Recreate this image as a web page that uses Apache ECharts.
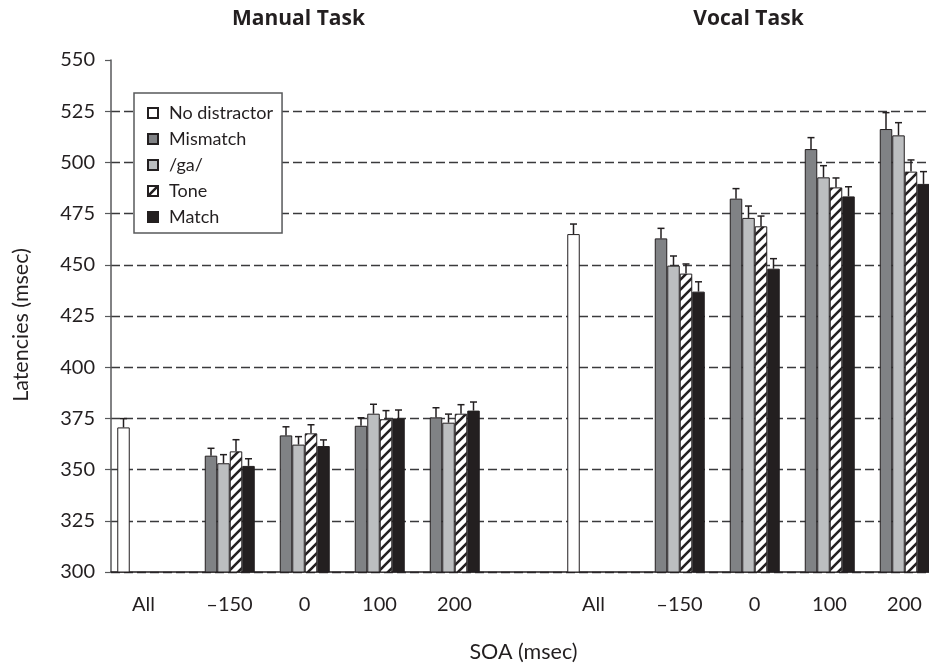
<!DOCTYPE html>
<html>
<head>
<meta charset="utf-8">
<script src="https://cdn.jsdelivr.net/npm/echarts@6/dist/echarts.min.js"></script>
<style>
  html, body { margin: 0; padding: 0; background: #fff; }
  #chart { width: 929px; height: 663px; }
</style>
</head>
<body>
<div id="chart"></div>
<script>
// SOA levels shown under each task panel
const soaLabels = ['All', '\u2013150', '0', '100', '200'];
const taskTitles = ['Manual Task', 'Vocal Task'];
const seriesNames = ['No distractor', 'Mismatch', '/ga/', 'Tone', 'Match'];

// Mean latencies (msec); distractor conditions are at SOA -150, 0, 100, 200
const manualNoDistractor = 370.6;
const manualMismatch = [356.8, 366.7, 371.4, 375.5];
const manualGa = [353.1, 362.2, 377.3, 372.9];
const manualTone = [358.9, 367.7, 374.6, 377.3];
const manualMatch = [351.8, 361.5, 375.0, 378.8];

const vocalNoDistractor = 465.0;
const vocalMismatch = [462.9, 482.3, 506.5, 516.3];
const vocalGa = [449.6, 472.9, 492.7, 513.2];
const vocalTone = [445.7, 468.8, 487.8, 495.5];
const vocalMatch = [436.9, 448.1, 483.4, 489.5];

// Standard errors (upper whisker length, msec)
const manualNoDistractorErr = 4.3;
const manualMismatchErr = [3.6, 4.2, 3.9, 4.7];
const manualGaErr = [4.2, 3.9, 4.6, 4.2];
const manualToneErr = [5.7, 4.2, 4.2, 4.4];
const manualMatchErr = [3.5, 3.0, 4.1, 4.2];

const vocalNoDistractorErr = 4.9;
const vocalMismatchErr = [4.9, 4.9, 5.6, 8.0];
const vocalGaErr = [4.7, 5.8, 5.7, 6.2];
const vocalToneErr = [4.7, 5.0, 4.6, 5.7];
const vocalMatchErr = [4.8, 4.9, 4.7, 6.0];

// Category slots: 5 per task plus one blank spacer between the panels
const categories = [];
taskTitles.forEach(function (t, ti) {
  soaLabels.forEach(function (s) { categories.push(t + '|' + s); });
  if (ti === 0) categories.push('spacer');
});
const MANUAL_START = 0;
const VOCAL_START = soaLabels.length + 1;

function buildSeriesValues(manualAll, vocalAll, manualSoa, vocalSoa) {
  const out = categories.map(function () { return '-'; });
  if (manualAll != null) out[MANUAL_START] = manualAll;
  if (vocalAll != null) out[VOCAL_START] = vocalAll;
  if (manualSoa) manualSoa.forEach(function (v, i) { out[MANUAL_START + 1 + i] = v; });
  if (vocalSoa) vocalSoa.forEach(function (v, i) { out[VOCAL_START + 1 + i] = v; });
  return out;
}

const barValues = [
  buildSeriesValues(manualNoDistractor, vocalNoDistractor, null, null),
  buildSeriesValues(null, null, manualMismatch, vocalMismatch),
  buildSeriesValues(null, null, manualGa, vocalGa),
  buildSeriesValues(null, null, manualTone, vocalTone),
  buildSeriesValues(null, null, manualMatch, vocalMatch)
];
const errValues = [
  buildSeriesValues(manualNoDistractorErr, vocalNoDistractorErr, null, null),
  buildSeriesValues(null, null, manualMismatchErr, vocalMismatchErr),
  buildSeriesValues(null, null, manualGaErr, vocalGaErr),
  buildSeriesValues(null, null, manualToneErr, vocalToneErr),
  buildSeriesValues(null, null, manualMatchErr, vocalMatchErr)
];

// Diagonal hatch fill used for the Tone condition
function makeHatch() {
  const c = document.createElement('canvas');
  c.width = 10; c.height = 10;
  const g = c.getContext('2d');
  g.fillStyle = '#ffffff';
  g.fillRect(0, 0, 10, 10);
  g.strokeStyle = '#231f20';
  g.lineWidth = 2.6;
  g.beginPath();
  g.moveTo(-2, 12); g.lineTo(12, -2);
  g.moveTo(-2, 2); g.lineTo(2, -2);
  g.moveTo(8, 12); g.lineTo(12, 8);
  g.stroke();
  return c;
}

const INK = '#231f20';
const FONT = 'Lato, "Open Sans", sans-serif';
const TITLE_FONT = '"Open Sans", Lato, sans-serif';
const fills = ['#ffffff', '#808285', '#bcbec0', { image: makeHatch(), repeat: 'repeat' }, '#231f20'];
const BAR_W = 12.5;

const barSeries = seriesNames.map(function (name, i) {
  return {
    name: name,
    type: 'bar',
    data: barValues[i],
    barWidth: BAR_W,
    barGap: '0%',
    itemStyle: { color: fills[i], borderColor: INK, borderWidth: 1 },
    emphasis: { disabled: true },
    z: 2
  };
});

function errorRenderer(slot) {
  return function (params, api) {
    const idx = api.value(0);
    const v = api.value(1);
    const e = api.value(2);
    const p0 = api.coord([idx, v]);
    const p1 = api.coord([idx, v + e]);
    const cx = p0[0] + (slot - (seriesNames.length - 1) / 2) * BAR_W;
    const style = { stroke: INK, lineWidth: 1.5 };
    return {
      type: 'group',
      children: [
        { type: 'line', shape: { x1: cx, y1: p0[1], x2: cx, y2: p1[1] }, style: style },
        { type: 'line', shape: { x1: cx - 3.5, y1: p1[1], x2: cx + 3.5, y2: p1[1] }, style: style }
      ]
    };
  };
}

const errSeries = seriesNames.map(function (name, i) {
  const data = [];
  barValues[i].forEach(function (v, k) {
    if (v !== '-') data.push([k, v, errValues[i][k]]);
  });
  return {
    name: name + ' SE',
    type: 'custom',
    data: data,
    encode: { x: 0, y: 1 },
    renderItem: errorRenderer(i),
    silent: true,
    z: 3
  };
});

const chart = echarts.init(document.getElementById('chart'), null, { renderer: 'canvas' });

chart.setOption({
  animation: false,
  backgroundColor: '#ffffff',
  textStyle: { fontFamily: FONT, color: INK },
  grid: { left: 111, top: 60, width: 825, height: 512, outerBoundsMode: 'none', containLabel: false },
  legend: {
    data: seriesNames,
    orient: 'vertical',
    left: 134,
    top: 93,
    padding: [11, 9, 7, 13],
    itemWidth: 10,
    itemHeight: 10,
    itemGap: 8,
    icon: 'rect',
    backgroundColor: '#ffffff',
    borderColor: '#58595b',
    borderWidth: 1.5,
    borderRadius: 0,
    selectedMode: false,
    textStyle: { fontFamily: FONT, fontSize: 18, color: INK, padding: [0, 0, 0, 6] }
  },
  xAxis: {
    type: 'category',
    data: categories,
    boundaryGap: true,
    name: 'SOA (msec)',
    nameLocation: 'middle',
    nameGap: 69,
    nameTextStyle: { fontFamily: FONT, fontSize: 21.5, color: INK },
    axisLine: { lineStyle: { color: INK, width: 1.5 } },
    axisTick: { show: false },
    splitLine: { show: false },
    axisLabel: {
      interval: 0,
      margin: 23,
      fontFamily: FONT,
      fontSize: 20,
      color: INK,
      formatter: function (val) {
        if (val === 'spacer') return '';
        const s = val.split('|')[1];
        return s === 'All' ? '{all|' + s + '}' : '{num|' + s + '}';
      },
      rich: {
        all: { fontFamily: FONT, fontSize: 20, color: INK, padding: [0, 10, 0, 0] },
        num: { fontFamily: FONT, fontSize: 20, color: INK, padding: [0, 0, 0, 12] }
      }
    }
  },
  yAxis: {
    type: 'value',
    min: 300,
    max: 550,
    interval: 25,
    name: 'Latencies (msec)',
    nameLocation: 'middle',
    nameGap: 79,
    nameTextStyle: { fontFamily: FONT, fontSize: 21.5, color: INK, padding: [0, 18, 0, 0] },
    axisLine: { show: true, lineStyle: { color: '#58595b', width: 1.5 } },
    axisTick: { show: true, length: 6, lineStyle: { color: '#58595b', width: 1.2 } },
    axisLabel: { fontFamily: FONT, fontSize: 20, color: INK, margin: 16 },
    splitLine: {
      show: true,
      showMaxLine: false,
      lineStyle: { color: '#3a3a3c', width: 1.3, type: [9, 4] }
    }
  },
  series: barSeries.concat(errSeries)
});

// Panel titles centred over the middle SOA column of each task
function placeTitles() {
  const centreIdx = [MANUAL_START + 2, VOCAL_START + 2];
  chart.setOption({
    graphic: taskTitles.map(function (t, i) {
      const x = chart.convertToPixel({ xAxisIndex: 0 }, categories[centreIdx[i]]);
      return {
        type: 'text',
        x: x,
        y: 19,
        style: {
          text: t,
          fontFamily: TITLE_FONT,
          fontSize: 21,
          fontWeight: 'bold',
          fill: INK,
          align: 'center',
          verticalAlign: 'middle'
        }
      };
    })
  });
}
placeTitles();
</script>
</body>
</html>
